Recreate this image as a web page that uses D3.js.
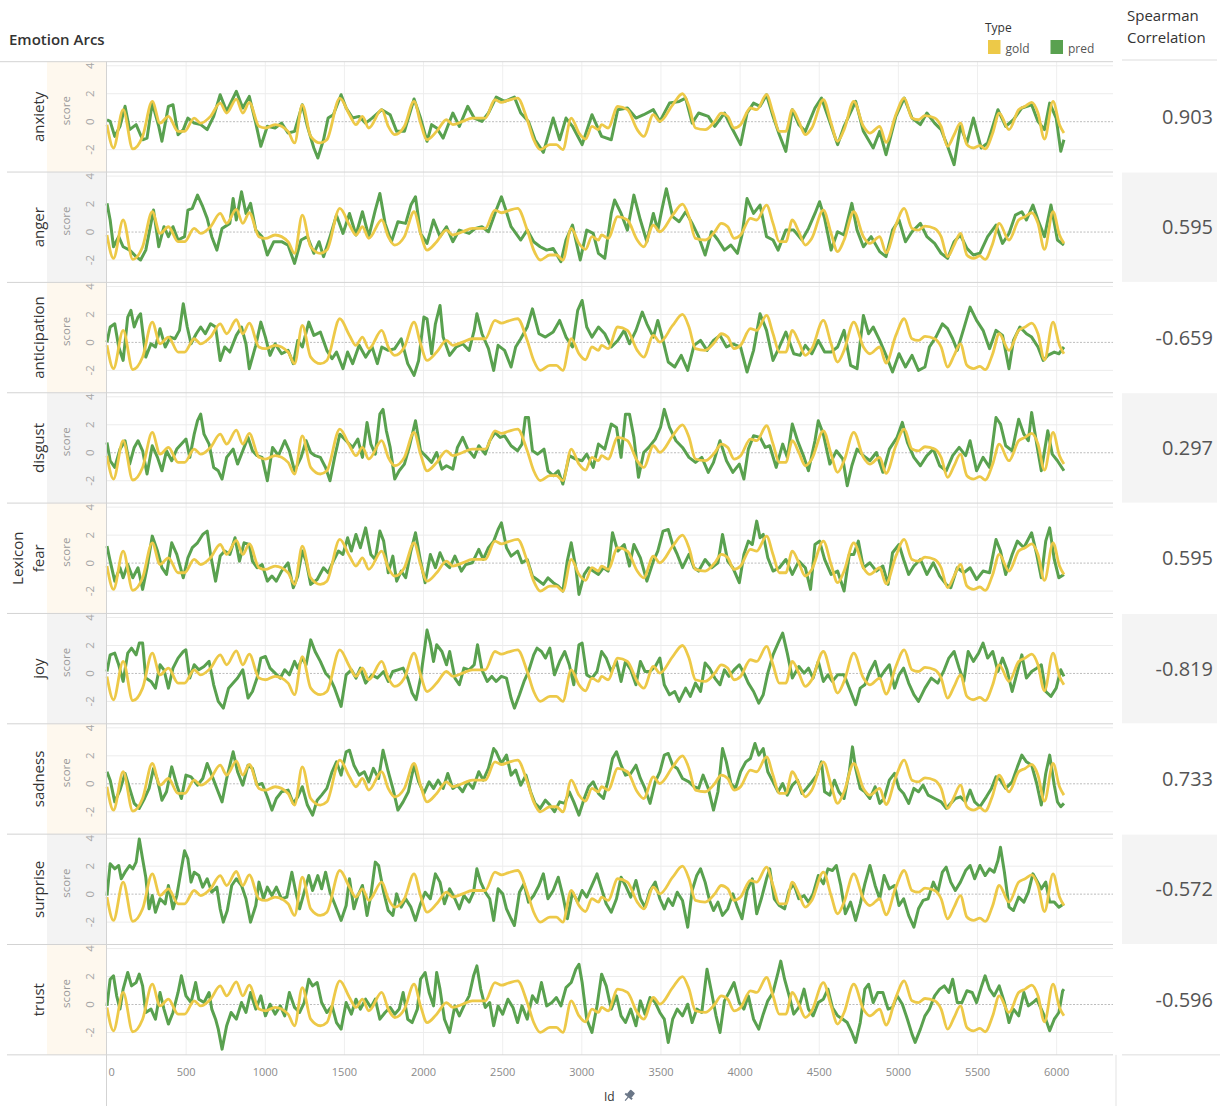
<!DOCTYPE html>
<html>
<head>
<meta charset="utf-8">
<script src="https://cdn.jsdelivr.net/npm/d3@7"></script>
<style>
  body { margin: 0; background: #fff; }
  svg { display: block; font-family: "Open Sans", "Noto Sans", sans-serif; }
</style>
</head>
<body>
<svg id="chart" width="1220" height="1106"></svg>
<script>
/* Emotion Arcs: gold vs predicted arcs per lexicon emotion */
const emotions = ["anxiety", "anger", "anticipation", "disgust", "fear", "joy", "sadness", "surprise", "trust"];
const correlations = [0.903, 0.595, -0.659, 0.297, 0.595, -0.819, 0.733, -0.572, -0.596];
const typeNames = ["gold", "pred"];
const xTicks = [0, 500, 1000, 1500, 2000, 2500, 3000, 3500, 4000, 4500, 5000, 5500, 6000];
const yTicks = [-2, 0, 2, 4];

// [Id, score]
const goldArc = [[0,-0.21],[41,-1.88],[102,0.86],[163,-1.95],[225,-1.05],[286,1.45],[335,-0.1],[388,0.38],[449,-0.69],[490,-0.69],[551,0.26],[592,-0.1],[654,0.38],[715,1.33],[756,0.62],[817,1.62],[858,0.62],[899,1.38],[960,-0.33],[1001,-0.45],[1062,-0.21],[1144,-0.69],[1185,-1.52],[1234,1.21],[1287,-1.05],[1348,-1.52],[1389,-1.29],[1471,1.69],[1532,0.5],[1573,-0.21],[1614,0.38],[1654,-0.45],[1736,0.86],[1777,-0.33],[1818,-0.93],[1879,-0.33],[1940,1.45],[1981,-0.1],[2022,-1.29],[2083,-0.69],[2145,0.14],[2185,-0.21],[2247,0.02],[2308,0.26],[2390,0.26],[2451,1.57],[2492,1.38],[2533,1.52],[2594,1.69],[2655,0.14],[2696,-1.29],[2737,-2.0],[2798,-1.64],[2839,-1.64],[2880,-2.0],[2933,0.26],[2982,-0.81],[3023,-1.24],[3064,-0.33],[3105,-0.57],[3125,-0.21],[3166,-0.45],[3227,1.1],[3288,0.86],[3350,-0.57],[3391,-1.05],[3452,0.5],[3493,0.02],[3574,1.21],[3636,2.0],[3677,1.1],[3718,-0.45],[3779,-0.57],[3840,0.02],[3881,0.62],[3922,0.38],[3962,-0.45],[4003,-0.21],[4065,0.98],[4105,0.86],[4167,1.93],[4208,0.62],[4248,-0.69],[4289,-0.69],[4330,0.86],[4371,0.02],[4412,-0.93],[4453,-0.45],[4526,1.57],[4575,-0.1],[4616,-1.4],[4657,-0.57],[4718,1.45],[4779,-0.33],[4820,-0.81],[4882,-0.33],[4922,-1.48],[4984,0.5],[5037,1.69],[5086,0.26],[5127,0.14],[5168,0.43],[5229,0.26],[5270,-0.33],[5311,-1.76],[5352,-0.93],[5392,-0.1],[5433,-1.64],[5474,-1.88],[5515,-1.71],[5548,-1.95],[5596,-0.81],[5637,0.62],[5699,-0.57],[5760,0.86],[5801,1.1],[5842,1.38],[5882,0.62],[5923,-1.24],[5977,1.45],[6018,-0.21],[6046,-0.81]];

const anxietyPred = [[0,0.14],[20,0.02],[49,-1.05],[82,-0.33],[114,1.1],[143,-0.57],[184,-0.21],[225,-1.29],[253,-1.17],[286,1.33],[327,-0.33],[347,-1.4],[388,1.1],[417,1.21],[449,-0.93],[482,-0.57],[511,0.26],[551,-0.1],[592,-0.21],[633,-0.57],[674,0.38],[715,1.93],[756,0.74],[817,2.17],[858,0.98],[899,1.81],[940,-0.1],[972,-1.76],[1013,-0.33],[1062,-0.45],[1103,-0.1],[1144,-0.81],[1185,-0.69],[1234,1.21],[1266,-0.33],[1307,-1.88],[1332,-2.6],[1368,-1.29],[1397,0.26],[1430,0.5],[1479,1.93],[1511,0.98],[1552,0.26],[1593,0.38],[1634,-0.1],[1675,0.26],[1736,0.86],[1789,0.5],[1830,-0.69],[1879,-0.69],[1940,1.62],[1981,0.26],[2022,-1.4],[2051,-0.21],[2083,-0.45],[2124,-1.17],[2185,0.62],[2226,-0.33],[2279,1.1],[2320,0.26],[2369,0.02],[2410,0.62],[2459,1.76],[2512,1.45],[2574,1.76],[2614,0.62],[2663,0.02],[2704,-1.29],[2757,-2.19],[2819,0.26],[2860,-1.29],[2900,0.26],[2941,-0.33],[3002,-1.64],[3064,0.5],[3125,-1.05],[3186,-1.29],[3227,0.86],[3288,0.98],[3342,0.26],[3391,0.5],[3452,0.86],[3493,0.02],[3554,1.33],[3615,1.45],[3656,1.69],[3697,-0.1],[3738,0.62],[3799,0.38],[3840,-0.33],[3901,0.62],[3942,-0.33],[4003,-1.64],[4044,0.62],[4085,1.33],[4126,1.1],[4167,1.93],[4208,0.38],[4248,-0.93],[4289,-2.12],[4330,0.86],[4371,-0.21],[4412,-0.69],[4473,0.98],[4514,1.69],[4555,0.38],[4616,-1.64],[4657,-0.33],[4730,1.45],[4779,-0.69],[4841,-1.88],[4882,-0.69],[4922,-2.36],[4984,0.38],[5037,1.69],[5086,0.26],[5139,-0.21],[5180,0.62],[5229,-0.1],[5270,-0.57],[5311,-1.76],[5352,-3.07],[5392,-0.33],[5433,-1.52],[5474,0.26],[5523,-1.88],[5564,-1.52],[5629,0.86],[5678,-0.33],[5727,0.14],[5780,0.98],[5842,1.21],[5882,0.02],[5923,-0.57],[5956,1.33],[5997,0.26],[6026,-2.12],[6046,-1.29]];

const angerPred = [[0,2.05],[20,0.86],[41,-1.05],[74,-0.33],[102,-1.05],[143,-1.29],[184,-1.76],[212,-2.0],[245,-1.29],[294,1.57],[327,-1.05],[360,0.38],[388,-0.33],[417,0.38],[449,-0.57],[490,-0.33],[511,1.57],[539,1.69],[572,2.64],[605,1.81],[633,0.98],[662,-0.33],[694,-1.29],[727,0.26],[776,0.62],[797,2.4],[817,0.86],[850,2.88],[878,1.33],[907,2.05],[940,0.14],[980,-0.33],[1013,-1.64],[1054,-0.69],[1103,-0.69],[1144,-0.93],[1185,-2.24],[1226,-0.57],[1266,-0.33],[1307,-1.52],[1340,-0.69],[1368,-1.76],[1409,-0.33],[1450,1.21],[1491,-0.1],[1532,1.33],[1573,-0.21],[1614,1.45],[1654,-0.33],[1695,1.57],[1724,2.76],[1757,0.62],[1797,-0.69],[1838,0.74],[1887,0.62],[1920,1.93],[1949,2.52],[1981,-0.1],[2022,-0.81],[2063,0.86],[2104,-0.33],[2145,0.38],[2185,-0.69],[2226,0.14],[2288,-0.1],[2328,0.26],[2369,0.38],[2410,0.02],[2459,1.57],[2492,2.52],[2520,1.57],[2553,0.38],[2614,-0.57],[2655,0.14],[2696,-0.69],[2737,-1.05],[2778,-1.29],[2819,-1.17],[2868,-2.12],[2900,-0.57],[2941,0.5],[2990,-2.0],[3031,0.14],[3072,-0.1],[3105,-1.52],[3145,-1.88],[3186,1.33],[3207,2.29],[3248,1.33],[3288,0.14],[3329,2.64],[3370,0.86],[3411,-0.69],[3452,1.33],[3480,0.14],[3505,1.57],[3534,3.1],[3574,1.1],[3615,0.74],[3656,1.45],[3697,0.62],[3738,-0.33],[3779,-1.64],[3820,0.02],[3860,-0.57],[3901,-1.29],[3942,-0.93],[3983,-1.52],[4012,-0.21],[4044,2.4],[4085,1.33],[4126,1.93],[4167,-0.33],[4208,-0.57],[4240,-1.29],[4289,0.14],[4339,0.14],[4391,-0.57],[4432,0.26],[4473,1.33],[4502,2.17],[4534,0.98],[4575,-1.29],[4616,0.02],[4657,-0.21],[4706,2.05],[4739,0.14],[4779,-1.05],[4828,-0.33],[4882,-1.4],[4922,-1.76],[4963,0.14],[5004,0.86],[5045,-0.69],[5086,0.02],[5139,0.62],[5180,-0.33],[5229,-0.81],[5270,-1.52],[5311,-1.88],[5352,-0.69],[5392,-0.21],[5433,-1.17],[5474,-1.64],[5515,-1.52],[5564,-0.33],[5617,0.5],[5658,-0.81],[5699,-0.1],[5739,1.21],[5780,1.45],[5809,0.86],[5850,1.93],[5882,0.86],[5923,-0.33],[5964,1.93],[6005,-0.57],[6046,-0.93]];

const anticipationPred = [[0,0.02],[20,1.1],[49,1.33],[74,-0.33],[102,-1.29],[131,1.81],[151,2.29],[172,1.1],[196,1.81],[212,2.05],[245,-1.05],[278,-0.1],[306,-0.33],[335,0.98],[368,-0.33],[400,0.38],[429,0.26],[458,0.86],[482,2.76],[507,1.1],[531,-0.1],[564,0.62],[592,1.1],[621,0.62],[654,1.33],[686,1.1],[715,-1.29],[744,-0.33],[776,-0.69],[817,0.5],[850,1.1],[878,-0.1],[899,-1.88],[940,-0.21],[972,1.45],[1001,0.38],[1030,-0.93],[1062,-0.1],[1103,-0.81],[1144,-0.57],[1177,-1.52],[1205,0.14],[1234,-0.33],[1275,1.45],[1307,0.5],[1348,0.74],[1389,-0.57],[1422,-1.17],[1450,-0.69],[1491,-1.88],[1520,-0.69],[1552,-1.52],[1593,-0.21],[1634,-1.05],[1675,-0.33],[1708,-1.52],[1736,-0.33],[1777,-0.57],[1818,-0.45],[1859,0.26],[1900,-1.52],[1940,-2.36],[1969,-1.29],[2002,1.81],[2022,1.69],[2051,-0.81],[2075,1.33],[2104,2.64],[2124,0.38],[2165,-0.93],[2206,-0.33],[2247,-0.1],[2288,-0.57],[2320,0.86],[2337,2.05],[2369,0.62],[2410,-0.45],[2443,-2.0],[2471,-0.21],[2512,-0.57],[2553,-1.76],[2582,-0.33],[2614,0.26],[2655,1.1],[2688,2.4],[2729,0.62],[2770,0.38],[2819,0.74],[2860,1.57],[2900,0.38],[2941,-0.33],[2974,2.29],[3002,3.0],[3031,1.1],[3064,0.38],[3105,1.1],[3145,0.62],[3186,-0.33],[3227,0.14],[3268,0.86],[3301,-0.1],[3342,0.86],[3382,2.17],[3411,1.33],[3452,0.38],[3480,1.57],[3513,0.14],[3546,-1.4],[3587,-1.76],[3628,-0.93],[3669,-2.0],[3709,-0.21],[3750,0.14],[3791,-0.57],[3832,0.14],[3873,0.5],[3914,-0.33],[3954,-0.1],[4003,-0.33],[4044,-2.12],[4085,-0.57],[4126,2.05],[4167,0.86],[4208,-1.29],[4248,-0.33],[4289,0.74],[4339,-0.81],[4379,-0.93],[4412,-0.21],[4453,-0.81],[4494,0.14],[4534,-0.69],[4575,-0.69],[4616,-0.33],[4657,0.86],[4698,-1.64],[4739,-1.88],[4779,1.93],[4812,0.62],[4841,1.1],[4882,0.14],[4922,-0.93],[4963,-2.12],[5004,-0.81],[5045,-1.76],[5086,-0.93],[5127,-2.0],[5168,-1.76],[5196,-0.33],[5237,0.38],[5278,1.33],[5311,0.98],[5343,0.26],[5372,-0.57],[5413,0.98],[5453,2.52],[5494,1.57],[5535,0.86],[5576,-0.45],[5617,0.86],[5658,0.5],[5699,-1.88],[5727,0.14],[5768,1.1],[5809,0.62],[5842,0.38],[5882,-0.33],[5915,-1.29],[5944,-0.93],[5985,-0.69],[6014,-0.81],[6046,-0.33]];

const disgustPred = [[0,0.74],[20,-0.57],[49,-1.05],[82,0.26],[114,0.86],[143,-0.81],[172,0.38],[196,0.86],[225,0.14],[253,-1.52],[286,0.5],[319,-0.33],[347,-1.29],[376,0.14],[409,-0.57],[441,0.26],[470,0.62],[499,0.98],[523,-0.33],[551,1.33],[572,2.29],[592,2.76],[613,1.33],[645,0.62],[674,-1.05],[703,-1.29],[727,-1.88],[756,-0.33],[797,0.26],[825,-0.81],[858,0.14],[891,1.1],[919,0.14],[948,-0.21],[980,-0.33],[1013,-2.0],[1046,0.38],[1083,-0.21],[1123,0.86],[1152,0.14],[1185,-1.29],[1226,-0.33],[1258,0.86],[1287,0.02],[1315,-0.21],[1348,-0.33],[1381,-1.05],[1409,-2.0],[1438,-0.33],[1471,1.33],[1511,0.86],[1552,0.38],[1585,0.98],[1614,-0.33],[1643,2.17],[1667,0.62],[1695,-0.1],[1724,2.76],[1744,3.1],[1765,1.57],[1789,0.38],[1818,-1.88],[1846,-1.29],[1879,-0.81],[1912,0.5],[1949,2.29],[1981,0.14],[2022,-0.33],[2051,-0.69],[2083,0.02],[2116,-1.17],[2145,-0.93],[2185,-1.17],[2214,0.38],[2247,1.1],[2279,0.26],[2320,-0.33],[2349,0.5],[2390,-0.1],[2418,0.86],[2451,1.45],[2484,1.1],[2512,1.21],[2553,0.5],[2594,0.14],[2622,0.62],[2643,2.52],[2663,2.52],[2688,0.14],[2721,-0.1],[2761,0.26],[2786,-1.29],[2819,-1.64],[2851,-1.29],[2880,-2.24],[2921,-0.21],[2962,-0.45],[3002,-0.57],[3031,-0.1],[3072,-1.05],[3105,0.62],[3145,0.26],[3186,2.05],[3219,1.81],[3248,-0.33],[3276,2.76],[3301,2.76],[3329,1.1],[3358,-1.76],[3391,0.02],[3423,0.38],[3464,0.98],[3497,1.81],[3521,3.1],[3554,1.81],[3595,0.86],[3636,0.38],[3677,-0.33],[3718,-0.69],[3758,-0.33],[3799,-1.4],[3832,-0.69],[3873,0.86],[3914,-0.57],[3954,-1.4],[3995,-0.81],[4024,-1.88],[4052,0.26],[4085,1.21],[4126,1.1],[4159,0.38],[4187,0.5],[4228,-1.05],[4269,0.62],[4298,-0.33],[4330,2.05],[4363,0.86],[4404,-0.33],[4432,-1.29],[4473,0.86],[4494,2.29],[4526,1.33],[4567,-0.81],[4608,0.14],[4649,-0.45],[4677,-2.36],[4706,-0.93],[4739,0.26],[4779,-0.21],[4820,-0.57],[4861,0.02],[4902,-1.4],[4943,0.26],[4992,1.1],[5025,2.17],[5057,0.74],[5098,-0.33],[5139,-0.93],[5180,-0.21],[5221,0.26],[5261,-0.93],[5302,-1.29],[5343,-0.21],[5384,0.38],[5425,-0.21],[5453,0.86],[5494,-1.29],[5535,-0.33],[5576,-1.05],[5617,2.52],[5645,2.05],[5678,0.5],[5719,0.14],[5760,2.4],[5793,1.33],[5821,0.86],[5842,2.88],[5874,0.62],[5903,-1.29],[5944,1.57],[5972,-0.1],[6005,-0.57],[6046,-1.29]];

const fearPred = [[0,1.21],[20,0.14],[49,-1.29],[82,-0.33],[102,-1.05],[131,-0.1],[163,-1.05],[196,-0.33],[225,-1.88],[253,-0.33],[286,1.93],[319,0.86],[347,-0.33],[376,-0.81],[409,1.45],[441,0.62],[482,-1.05],[511,0.38],[539,1.1],[572,1.45],[605,2.05],[633,2.29],[654,0.62],[686,-1.29],[715,0.5],[744,0.86],[776,0.62],[809,1.81],[837,0.14],[866,1.45],[899,1.33],[919,0.14],[948,-0.33],[980,-0.1],[1013,-1.29],[1042,-0.93],[1070,-1.29],[1103,-0.57],[1144,0.02],[1177,-1.76],[1205,-0.93],[1234,0.86],[1258,0.14],[1287,-1.52],[1328,-1.17],[1368,-0.33],[1397,-0.69],[1430,0.14],[1462,0.86],[1491,0.62],[1520,1.81],[1544,0.86],[1573,2.05],[1601,1.1],[1634,2.52],[1667,0.62],[1695,0.26],[1724,2.29],[1748,1.57],[1777,-0.69],[1806,0.5],[1830,-1.29],[1859,-0.57],[1887,-1.05],[1920,0.86],[1949,2.17],[1981,0.14],[2010,-1.4],[2043,0.62],[2075,-0.33],[2104,0.74],[2132,0.02],[2165,-0.33],[2198,0.5],[2239,-0.57],[2267,-0.1],[2308,0.02],[2349,0.98],[2377,0.26],[2410,1.1],[2443,1.57],[2471,2.4],[2492,2.88],[2524,1.1],[2553,0.5],[2594,0.86],[2622,0.02],[2655,0.26],[2688,-0.93],[2717,-1.17],[2757,-1.52],[2786,-1.05],[2819,-1.4],[2851,-1.64],[2880,-2.0],[2908,0.14],[2933,1.45],[2962,-0.33],[2982,-2.24],[3015,-0.81],[3043,-0.33],[3072,-0.57],[3105,-0.81],[3137,-0.33],[3166,-0.57],[3194,2.17],[3227,0.86],[3268,1.33],[3301,-0.21],[3329,1.33],[3370,0.38],[3411,-1.29],[3452,0.14],[3480,0.86],[3513,2.29],[3546,2.4],[3574,1.33],[3603,0.62],[3636,-0.33],[3677,0.62],[3709,-0.33],[3738,-0.57],[3779,0.26],[3820,-0.33],[3860,0.02],[3889,2.05],[3922,0.14],[3954,-0.33],[3995,-1.4],[4024,0.62],[4052,1.57],[4077,1.33],[4105,3.0],[4126,1.81],[4146,2.05],[4175,0.38],[4208,-0.57],[4248,-0.33],[4289,0.26],[4330,-0.81],[4371,0.14],[4412,-0.33],[4445,-1.88],[4473,1.33],[4502,1.57],[4534,0.26],[4575,-0.81],[4616,-0.57],[4657,-2.0],[4690,0.62],[4718,0.62],[4747,1.57],[4779,-0.33],[4820,0.02],[4861,-0.57],[4902,-0.21],[4935,-1.52],[4963,0.74],[5004,1.33],[5033,0.26],[5065,-0.81],[5098,-0.21],[5139,0.26],[5180,-0.81],[5221,0.02],[5261,-0.93],[5302,-1.52],[5331,-1.76],[5372,-0.33],[5413,-0.69],[5453,-0.33],[5494,-1.17],[5535,-0.57],[5576,-0.69],[5617,1.69],[5645,0.86],[5678,-0.81],[5719,0.62],[5752,1.57],[5793,1.1],[5842,2.17],[5874,0.62],[5903,-1.05],[5931,1.57],[5956,2.52],[5985,0.26],[6014,-1.05],[6046,-0.81]];

const joyPred = [[0,0.14],[20,1.33],[49,1.45],[74,0.62],[102,-0.57],[131,1.45],[155,1.81],[184,1.33],[204,2.17],[225,2.17],[245,-0.33],[278,-0.57],[306,-1.05],[335,0.62],[360,0.26],[388,-1.05],[417,0.38],[449,1.1],[482,1.57],[498,1.69],[523,-0.33],[551,0.62],[580,0.26],[613,0.5],[645,0.86],[674,-0.81],[703,-2.0],[735,-2.48],[768,-1.05],[797,-0.69],[825,-0.33],[858,0.26],[891,-1.76],[919,-1.29],[948,-0.33],[972,1.1],[1001,1.21],[1030,0.38],[1062,0.02],[1095,-0.33],[1123,0.26],[1152,-0.1],[1185,0.86],[1205,0.38],[1234,1.1],[1258,0.62],[1287,2.4],[1315,1.57],[1348,0.86],[1381,0.02],[1409,-0.33],[1438,-1.05],[1479,-2.36],[1511,-0.1],[1544,0.26],[1573,-0.33],[1601,0.38],[1634,-0.69],[1675,-0.1],[1708,-0.33],[1748,0.14],[1777,-0.57],[1806,0.14],[1838,0.26],[1871,0.38],[1900,-0.33],[1928,-1.4],[1953,-1.88],[1981,-0.33],[2010,2.05],[2022,3.1],[2043,2.17],[2063,0.86],[2083,2.05],[2116,1.57],[2145,0.62],[2165,1.57],[2198,-0.33],[2226,-0.81],[2255,0.38],[2288,0.26],[2320,0.62],[2341,2.05],[2369,0.26],[2402,-0.57],[2431,-0.21],[2459,-0.57],[2492,-0.21],[2524,-0.33],[2553,-1.76],[2574,-2.48],[2606,-1.52],[2635,-0.57],[2663,0.14],[2696,1.33],[2717,1.81],[2745,1.57],[2770,1.1],[2798,1.81],[2827,-0.1],[2860,0.86],[2892,1.57],[2921,0.62],[2949,-0.81],[2982,2.05],[3002,2.17],[3031,-0.1],[3064,-0.33],[3096,0.14],[3125,1.57],[3154,1.1],[3186,0.14],[3219,0.86],[3248,-0.57],[3276,0.86],[3309,0.26],[3342,-0.81],[3370,0.86],[3399,0.14],[3431,0.14],[3464,0.5],[3493,1.1],[3521,-0.81],[3554,-1.52],[3587,-1.29],[3615,-2.0],[3656,-1.05],[3685,-1.64],[3718,-0.69],[3750,-1.29],[3779,0.74],[3807,0.38],[3840,-0.33],[3873,-0.81],[3901,0.26],[3930,-0.21],[3962,0.26],[3995,0.62],[4024,0.02],[4052,-0.69],[4085,-1.29],[4118,-2.12],[4146,-1.52],[4175,0.02],[4208,1.33],[4240,2.17],[4269,2.88],[4298,1.45],[4330,-0.33],[4371,0.5],[4404,0.02],[4432,0.38],[4461,-0.33],[4494,0.86],[4526,-0.57],[4555,-0.1],[4583,-0.57],[4616,-0.1],[4657,-0.1],[4698,-1.29],[4730,-2.24],[4759,-1.05],[4788,-0.81],[4820,0.14],[4853,0.86],[4882,-0.33],[4910,0.14],[4943,0.62],[4976,-1.05],[5004,-0.1],[5033,0.38],[5065,-0.69],[5098,-1.52],[5127,-2.0],[5168,-1.05],[5208,-0.33],[5249,-0.69],[5290,0.26],[5319,1.1],[5352,1.57],[5384,0.38],[5413,-0.57],[5441,1.57],[5474,0.86],[5507,1.45],[5535,2.17],[5564,1.1],[5596,1.57],[5629,0.14],[5658,1.1],[5686,0.26],[5719,-1.29],[5752,0.14],[5780,1.33],[5809,-0.33],[5842,0.14],[5874,0.38],[5903,0.62],[5931,-1.29],[5964,-1.64],[5997,-1.05],[6026,0.26],[6046,-0.21]];

const sadnessPred = [[0,0.86],[20,0.26],[49,-1.29],[82,-0.45],[114,0.74],[143,-0.33],[172,-1.4],[204,-1.76],[237,-1.05],[266,-0.33],[294,1.1],[319,0.26],[347,-1.17],[376,-0.57],[409,1.21],[441,-0.1],[470,-1.05],[499,0.62],[531,0.5],[572,-0.1],[605,0.38],[633,1.45],[662,0.62],[694,-0.33],[727,-1.29],[756,0.38],[797,2.29],[825,0.86],[858,-0.1],[891,1.33],[919,1.1],[948,-0.1],[980,0.02],[1013,-0.93],[1042,-1.88],[1070,-1.05],[1103,-0.57],[1144,-0.45],[1177,-1.4],[1205,-0.93],[1234,-0.21],[1266,-1.52],[1299,-2.24],[1328,-1.17],[1356,-0.81],[1389,-0.33],[1422,0.86],[1450,1.57],[1479,0.62],[1511,2.29],[1532,2.4],[1560,1.33],[1593,0.62],[1626,0.86],[1654,0.14],[1683,1.1],[1716,0.38],[1744,2.4],[1777,0.86],[1806,-0.33],[1838,-1.88],[1871,-1.29],[1904,-0.57],[1940,1.33],[1969,0.14],[2002,-0.69],[2035,0.14],[2063,-0.33],[2092,0.26],[2124,-0.33],[2153,0.74],[2185,-0.33],[2214,-0.1],[2247,-0.57],[2279,0.14],[2312,-0.33],[2349,0.86],[2377,0.26],[2410,1.1],[2443,2.52],[2459,2.29],[2492,1.45],[2524,2.05],[2553,0.62],[2582,0.98],[2614,-0.1],[2647,0.62],[2676,-0.57],[2704,-1.4],[2737,-1.76],[2770,-1.17],[2798,-1.52],[2827,-2.0],[2860,-1.29],[2892,-1.4],[2921,-0.57],[2949,-1.29],[2982,-2.24],[3015,-1.05],[3043,-0.21],[3072,0.14],[3105,-0.69],[3137,-1.05],[3166,0.26],[3194,1.81],[3219,2.29],[3248,1.33],[3276,0.62],[3309,0.74],[3342,1.33],[3370,0.38],[3399,-0.33],[3431,-1.4],[3464,0.14],[3493,0.86],[3521,2.05],[3546,2.17],[3574,1.33],[3603,1.1],[3636,0.38],[3677,0.14],[3709,-0.21],[3738,-0.33],[3766,0.62],[3799,-0.33],[3832,-1.88],[3860,-0.57],[3889,2.52],[3913,1.57],[3942,0.02],[3971,-0.33],[4003,0.86],[4036,1.57],[4065,1.81],[4094,2.88],[4118,2.05],[4146,2.52],[4175,0.86],[4208,0.14],[4240,-0.57],[4269,0.02],[4298,-0.81],[4330,-0.1],[4363,0.26],[4391,-0.69],[4420,-0.33],[4453,0.14],[4485,0.62],[4514,1.57],[4534,-0.57],[4567,-0.81],[4596,0.26],[4624,-0.57],[4657,-1.05],[4690,0.86],[4710,2.64],[4730,1.1],[4759,-0.33],[4788,-0.57],[4820,-1.05],[4853,-0.21],[4882,-1.4],[4910,-1.05],[4943,0.26],[4976,0.74],[5004,-0.33],[5033,-0.69],[5065,-1.4],[5098,-0.33],[5127,-0.57],[5156,-0.1],[5188,-0.81],[5229,-1.05],[5270,-1.29],[5302,-1.76],[5331,-1.4],[5360,-1.05],[5392,-0.93],[5425,-1.29],[5453,-0.45],[5482,-1.29],[5515,-1.64],[5556,-0.93],[5588,-0.33],[5617,0.5],[5645,0.26],[5678,-0.33],[5719,0.14],[5752,1.21],[5780,2.05],[5809,1.57],[5842,1.33],[5874,0.02],[5903,-1.52],[5931,0.74],[5956,2.05],[5985,-0.1],[6005,-1.29],[6026,-1.64],[6046,-1.4]];

const surprisePred = [[0,-0.1],[20,2.17],[49,1.81],[74,2.05],[90,1.1],[114,1.57],[143,2.05],[163,1.81],[184,2.29],[204,3.95],[225,2.52],[245,1.21],[266,-1.05],[286,-0.1],[306,-1.29],[335,-0.33],[368,-0.69],[388,0.62],[417,-1.05],[441,-0.1],[470,1.81],[490,3.1],[511,2.52],[531,0.86],[551,1.57],[580,1.33],[605,0.5],[633,1.1],[662,0.14],[694,0.5],[715,-1.05],[735,-2.0],[760,-1.17],[788,0.62],[817,1.1],[850,0.62],[878,-0.33],[907,-2.0],[940,-0.81],[960,0.86],[989,-0.33],[1013,0.5],[1042,-0.1],[1070,0.5],[1103,-0.33],[1136,-0.21],[1168,1.57],[1193,0.14],[1217,-1.05],[1246,0.14],[1275,1.33],[1299,0.26],[1332,1.33],[1356,0.38],[1381,1.57],[1409,0.14],[1438,-0.69],[1479,-1.88],[1511,-0.81],[1532,1.1],[1560,-1.05],[1585,-0.1],[1614,0.62],[1643,-1.52],[1667,-0.1],[1695,2.29],[1716,2.05],[1748,0.14],[1777,-1.17],[1806,-1.52],[1830,0.02],[1859,-0.93],[1887,-0.33],[1920,-0.93],[1949,-1.88],[1981,-0.69],[2010,0.14],[2043,-0.33],[2075,1.45],[2104,0.86],[2132,-0.69],[2165,0.38],[2198,-0.33],[2226,-1.05],[2255,-0.1],[2288,-0.57],[2316,0.14],[2337,1.81],[2361,0.86],[2390,0.14],[2418,-0.33],[2443,-1.88],[2471,0.38],[2500,0.02],[2524,-1.05],[2553,-1.76],[2574,-2.24],[2606,0.14],[2635,0.74],[2663,-0.57],[2696,-0.1],[2729,0.62],[2757,1.45],[2786,-0.33],[2819,0.26],[2851,1.21],[2880,-0.1],[2909,-1.76],[2941,0.14],[2974,-0.57],[3002,0.26],[3031,-0.21],[3064,0.62],[3096,1.45],[3125,0.38],[3154,-0.69],[3186,-1.29],[3219,-0.33],[3248,1.21],[3276,0.62],[3309,-0.21],[3342,0.98],[3370,-0.33],[3399,-0.93],[3431,0.26],[3464,0.86],[3493,-0.33],[3521,-1.05],[3546,-0.33],[3574,-0.81],[3603,0.14],[3636,-0.45],[3669,-2.36],[3697,0.26],[3726,1.33],[3750,1.81],[3779,0.86],[3807,-0.45],[3832,-1.17],[3860,-0.57],[3889,-1.52],[3922,-1.05],[3954,0.02],[3983,-0.93],[4012,-1.76],[4044,0.26],[4077,1.1],[4105,-1.4],[4134,-0.33],[4167,1.1],[4187,1.81],[4216,-0.33],[4248,-0.81],[4281,-1.05],[4310,0.26],[4339,0.74],[4371,-0.33],[4404,-0.1],[4432,-0.57],[4461,0.02],[4494,1.33],[4526,0.74],[4555,1.81],[4583,1.69],[4608,2.05],[4636,0.62],[4665,-1.4],[4698,-0.57],[4730,-1.88],[4759,-0.69],[4788,0.74],[4820,2.05],[4853,0.62],[4882,-0.33],[4910,1.33],[4943,0.38],[4976,0.62],[5004,-0.81],[5033,-0.33],[5065,-1.52],[5098,-2.36],[5127,-1.05],[5156,-0.45],[5188,-0.33],[5221,0.86],[5249,0.14],[5278,1.57],[5302,1.93],[5331,0.86],[5360,0.26],[5392,0.86],[5425,1.69],[5453,2.05],[5482,1.1],[5515,2.05],[5548,1.33],[5576,1.81],[5605,1.57],[5629,2.4],[5645,3.36],[5670,1.57],[5699,-0.93],[5727,-1.17],[5760,-0.21],[5793,-0.57],[5821,0.14],[5850,1.45],[5874,0.98],[5903,0.38],[5931,0.86],[5956,-0.57],[5985,-0.57],[6014,-0.93],[6046,-0.69]];

const trustPred = [[0,-0.1],[20,1.81],[41,2.05],[61,0.62],[82,-0.33],[102,1.1],[131,2.29],[155,1.33],[184,1.57],[204,2.17],[225,1.33],[245,-0.57],[278,-0.33],[306,-1.05],[335,0.86],[360,-0.33],[388,-1.4],[417,-0.57],[449,0.86],[470,2.05],[499,0.62],[531,0.14],[560,1.57],[580,0.38],[613,0.14],[645,0.86],[662,-0.33],[686,-1.05],[703,-1.76],[727,-3.19],[756,-1.52],[784,-0.57],[817,-1.05],[850,0.14],[878,-0.57],[907,0.86],[940,-0.33],[972,0.62],[1001,-0.81],[1030,0.02],[1062,-0.69],[1095,-0.1],[1123,-0.81],[1152,0.86],[1185,-0.21],[1217,-0.57],[1246,0.14],[1275,1.81],[1299,1.33],[1328,1.57],[1356,0.14],[1389,-0.57],[1422,-0.1],[1450,-1.29],[1479,-1.76],[1511,0.14],[1544,-0.69],[1573,0.38],[1601,-0.33],[1634,0.38],[1667,-0.21],[1695,0.38],[1724,-1.05],[1757,-0.57],[1789,-0.21],[1818,-0.69],[1846,-0.33],[1871,0.86],[1900,-1.05],[1928,-1.29],[1961,-0.33],[1981,1.81],[2010,2.29],[2035,0.86],[2063,-0.1],[2083,2.29],[2104,1.1],[2132,-1.05],[2165,-2.0],[2198,-0.1],[2226,-0.81],[2255,-0.1],[2288,0.62],[2316,2.05],[2337,2.76],[2361,1.1],[2390,-0.21],[2418,0.14],[2443,-1.52],[2471,-0.1],[2500,-0.69],[2533,0.38],[2565,-0.21],[2594,-1.29],[2622,-0.1],[2655,-1.05],[2688,0.62],[2717,0.14],[2745,1.57],[2778,-0.1],[2811,0.14],[2839,0.5],[2868,-0.1],[2900,1.21],[2933,1.57],[2962,2.52],[2982,2.88],[3002,1.57],[3031,-1.05],[3064,-2.0],[3096,-0.1],[3125,2.17],[3154,1.33],[3186,-0.33],[3219,0.62],[3248,-0.81],[3276,-1.29],[3309,-0.33],[3342,-1.52],[3370,0.26],[3399,-0.69],[3431,0.5],[3464,0.14],[3493,-0.57],[3521,-1.05],[3546,-2.71],[3574,-1.05],[3603,-0.33],[3636,-0.81],[3669,0.02],[3697,-1.29],[3726,-0.33],[3758,-0.57],[3791,2.52],[3820,0.86],[3848,-0.81],[3873,-2.0],[3901,0.26],[3930,0.86],[3962,1.57],[3995,0.14],[4024,-0.33],[4052,0.62],[4085,-1.05],[4118,-1.76],[4146,-0.69],[4175,0.26],[4208,0.86],[4240,2.29],[4257,3.1],[4281,1.81],[4310,0.62],[4339,-0.69],[4371,-0.21],[4404,1.1],[4432,-0.33],[4461,-0.81],[4494,0.14],[4526,0.38],[4555,1.1],[4583,-0.21],[4616,-0.81],[4649,-1.05],[4677,-1.29],[4706,-2.0],[4730,-2.71],[4759,-1.29],[4788,1.1],[4812,1.45],[4841,0.14],[4870,0.86],[4902,0.86],[4935,-0.33],[4963,-0.21],[4992,0.62],[5025,0.02],[5057,-1.05],[5086,-2.12],[5106,-2.71],[5139,-1.76],[5168,-0.81],[5196,-0.33],[5229,0.62],[5261,1.1],[5290,1.33],[5319,0.86],[5343,1.81],[5372,0.14],[5401,0.14],[5433,0.98],[5466,0.86],[5494,0.14],[5523,1.21],[5548,2.05],[5576,1.1],[5605,0.62],[5637,1.33],[5670,0.14],[5699,-1.29],[5727,-0.33],[5760,-0.81],[5793,0.86],[5821,-0.1],[5850,0.14],[5874,0.38],[5903,-0.33],[5931,-1.05],[5956,-1.88],[5985,-1.05],[6014,-0.57],[6038,0.98],[6046,1.1]];

const predArcs = [anxietyPred, angerPred, anticipationPred, disgustPred, fearPred, joyPred, sadnessPred, surprisePred, trustPred];

const GOLD = "#EDC948", PRED = "#59A14F";
const rowTop0 = 61.7, rowH = 110.35;
const plotL = 107, plotR = 1113;

const svg = d3.select("#chart");
const x = d3.scaleLinear().domain([0, 6356]).range([plotL, plotR]);

// header
svg.append("text").attr("x", 9).attr("y", 44.5)
  .attr("font-size", 15).attr("font-weight", 600).attr("fill", "#333").text("Emotion Arcs");

svg.append("text").attr("x", 985).attr("y", 31.5)
  .attr("font-size", 12).attr("fill", "#333").text("Type");
const legend = svg.append("g");
typeNames.forEach((t, i) => {
  const lx = 988 + i * 62.5;
  legend.append("rect").attr("x", lx).attr("y", 40).attr("width", 12.5).attr("height", 14)
    .attr("fill", i === 0 ? GOLD : PRED);
  legend.append("text").attr("x", lx + 17.5).attr("y", 52.5)
    .attr("font-size", 12).attr("fill", "#555").text(t);
});

svg.append("text").attr("x", 1127).attr("y", 21)
  .attr("font-size", 15).attr("fill", "#333").text("Spearman");
svg.append("text").attr("x", 1127).attr("y", 43)
  .attr("font-size", 15).attr("fill", "#333").text("Correlation");

// left strips + right column backgrounds
emotions.forEach((e, i) => {
  const top = rowTop0 + i * rowH;
  svg.append("rect").attr("x", 47).attr("y", top).attr("width", plotL - 47).attr("height", rowH)
    .attr("fill", i % 2 === 0 ? "#fef8ee" : "#f3f3f3");
  if (i % 2 === 1) {
    svg.append("rect").attr("x", 1122).attr("y", top + 0.5).attr("width", 95).attr("height", rowH - 1)
      .attr("fill", "#f4f4f4");
  }
});

// vertical gridlines through all panels
const bottom = rowTop0 + emotions.length * rowH;
svg.append("g").selectAll("line").data(xTicks.slice(1)).join("line")
  .attr("x1", d => x(d)).attr("x2", d => x(d))
  .attr("y1", rowTop0).attr("y2", bottom)
  .attr("stroke", "#efefef").attr("stroke-width", 1);

const line = (y) => d3.line().x(d => x(d[0])).y(d => y(d[1]));

emotions.forEach((e, i) => {
  const top = rowTop0 + i * rowH;
  const y = d3.scaleLinear().domain([-3.6, 4.29]).range([top + rowH, top]);
  const g = svg.append("g");

  yTicks.forEach(v => {
    g.append("line").attr("x1", plotL).attr("x2", plotR).attr("y1", y(v)).attr("y2", y(v))
      .attr("stroke", v === 0 ? "#bdbdbd" : "#ececec")
      .attr("stroke-width", 1)
      .attr("stroke-dasharray", v === 0 ? "2,1.5" : null);
    g.append("text").attr("transform", `translate(94,${y(v)}) rotate(-90)`)
      .attr("text-anchor", "middle").attr("font-size", 11.5).attr("fill", "#a6a6a6").text(v);
  });

  g.append("text").attr("transform", `translate(70,${top + 49}) rotate(-90)`)
    .attr("text-anchor", "middle").attr("font-size", 11.5).attr("fill", "#9a9a9a").text("score");
  g.append("text").attr("transform", `translate(44,${top + rowH / 2}) rotate(-90)`)
    .attr("text-anchor", "middle").attr("font-size", 15).attr("fill", "#333").text(e);

  g.append("path").datum(predArcs[i]).attr("d", line(y))
    .attr("fill", "none").attr("stroke", PRED).attr("stroke-width", 3).attr("stroke-linejoin", "round");
  g.append("path").datum(goldArc).attr("d", line(y).curve(d3.curveMonotoneX))
    .attr("fill", "none").attr("stroke", GOLD).attr("stroke-width", 2.8).attr("stroke-linejoin", "round");

  svg.append("text").attr("x", 1213).attr("y", top + rowH / 2 + 7)
    .attr("text-anchor", "end").attr("font-size", 20).attr("fill", "#555")
    .text(d3.format(".3f")(correlations[i]).replace("−", "-"));
});

// row separators
svg.append("g").selectAll("line").data(d3.range(emotions.length + 1)).join("line")
  .attr("x1", d => d === 0 ? 0 : 7).attr("x2", plotR)
  .attr("y1", d => rowTop0 + d * rowH).attr("y2", d => rowTop0 + d * rowH)
  .attr("stroke", "#d3d3d3").attr("stroke-width", 1);
svg.append("line").attr("x1", 1122).attr("x2", 1217).attr("y1", 60).attr("y2", 60).attr("stroke", "#ddd");
svg.append("line").attr("x1", 1122).attr("x2", 1220).attr("y1", bottom).attr("y2", bottom).attr("stroke", "#ddd");

// frame verticals
svg.append("line").attr("x1", plotL - 0.5).attr("x2", plotL - 0.5).attr("y1", rowTop0).attr("y2", 1106).attr("stroke", "#d3d3d3");
svg.append("line").attr("x1", 1116).attr("x2", 1116).attr("y1", bottom).attr("y2", 1106).attr("stroke", "#e3e3e3");

// bottom axis labels
svg.append("g").selectAll("text").data(xTicks).join("text")
  .attr("x", d => d === 0 ? x(d) + 1.5 : x(d))
  .attr("y", 1075.5)
  .attr("text-anchor", d => d === 0 ? "start" : "middle")
  .attr("font-size", 11).attr("fill", "#8a8a8a").text(d => d);

svg.append("text").attr("x", 604).attr("y", 1100.5)
  .attr("font-size", 12).attr("fill", "#333").text("Id");
// pin icon
const pin = svg.append("g").attr("transform", "translate(629,1096) rotate(40)").attr("fill", "#6a7687");
pin.append("rect").attr("x", -3).attr("y", -6).attr("width", 6).attr("height", 6).attr("rx", 1);
pin.append("rect").attr("x", -4.5).attr("y", -0.5).attr("width", 9).attr("height", 2);
pin.append("rect").attr("x", -0.6).attr("y", 1).attr("width", 1.2).attr("height", 5);

// outer label
svg.append("text").attr("transform", `translate(23,${(rowTop0 + bottom) / 2}) rotate(-90)`)
  .attr("text-anchor", "middle").attr("font-size", 15).attr("fill", "#333").text("Lexicon");
</script>
</body>
</html>
